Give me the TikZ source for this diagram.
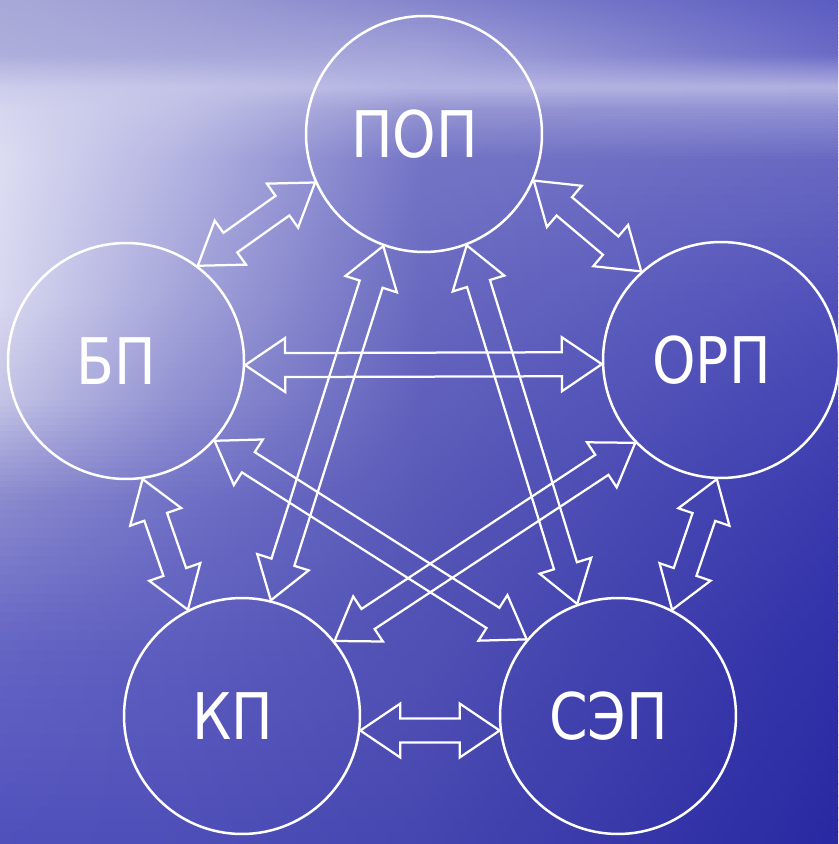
\documentclass[tikz,border=0pt]{standalone}
\usepackage{fontspec}
\setmainfont{DejaVu Sans}[FakeStretch=0.86]
\usepackage{tikz}
\usetikzlibrary{calc, positioning}

% sea colours, one row per key height: left edge, x=180, x=420, right edge
\foreach \n/\l/\q/\m/\r in {
    0/A8A8D8/9C9CD4/8484CC/5A5CC0,
    1/AEAEDC/A8A8DA/A4A4DA/6A6AC6,
    2/CCCCEC/C4C4E8/B4B4E2/B0B0E0,
    3/D6D6F0/C0C0E6/9494D2/9090D4,
    4/DCDCF2/B4B4E2/7474C6/6868C2,
    5/D8D8F0/A4A4DA/6868C0/5050BA,
    6/C4C4E6/9090D2/6060BC/4444B4,
    7/8A8ACE/7070C6/5858B8/3A3AAE,
    8/6464C4/5C5CBE/5050B4/3030A8,
    9/5050BC/4E4EB8/4646B0/2828A2}{%
  \xglobal\definecolor{seaL\n}{HTML}{\l}%
  \xglobal\definecolor{seaQ\n}{HTML}{\q}%
  \xglobal\definecolor{seaM\n}{HTML}{\m}%
  \xglobal\definecolor{seaR\n}{HTML}{\r}}

\newcommand{\headlen}{0.8cm}
\newcommand{\headhalf}{0.54cm}
\newcommand{\shafthalf}{0.24cm}

% hollow two-headed arrow between two points
\newcommand{\twoway}[2]{%
  \draw[link] (#1) -- ($(#1)!\headlen!(#2)!\headhalf!90:(#2)$)
    -- ($(#1)!\headlen!(#2)!\shafthalf!90:(#2)$)
    -- ($(#2)!\headlen!(#1)!\shafthalf!-90:(#1)$)
    -- ($(#2)!\headlen!(#1)!\headhalf!-90:(#1)$)
    -- (#2)
    -- ($(#2)!\headlen!(#1)!\headhalf!90:(#1)$)
    -- ($(#2)!\headlen!(#1)!\shafthalf!90:(#1)$)
    -- ($(#1)!\headlen!(#2)!\shafthalf!-90:(#2)$)
    -- ($(#1)!\headlen!(#2)!\headhalf!-90:(#2)$)
    -- cycle;}

\tikzset{
  stage/.style={circle, draw=white, line width=0.05cm, minimum size=4.72cm, inner sep=0pt},
  stagelabel/.style={text=white, font=\fontsize{36.6}{40}\selectfont, xshift=-0.19cm},
  link/.style={draw=white, line width=0.045cm, line join=miter},
}

\begin{document}
\begin{tikzpicture}[x=0.02cm, y=-0.02cm]
    \useasboundingbox (0,0) rectangle (838,844);

    % sea and sky, in thin strips
    \begin{scope}
        \clip (0,0) rectangle (838,844);
        \foreach \ya/\yb/\a/\b in {0/55/0/1, 55/88/1/2, 88/110/2/3, 110/160/3/4, 160/300/4/5,
                                   300/400/5/6, 400/500/6/7, 500/650/7/8, 650/844/8/9} {
            \foreach \t in {0,...,15} {
                \pgfmathsetmacro\p{(\t+0.5)*100/16}
                \pgfmathsetmacro\yt{\ya+(\yb-\ya)*\t/16}
                \pgfmathsetmacro\yu{\ya+(\yb-\ya)*(\t+1)/16+0.8}
                \colorlet{cl}{seaL\b!\p!seaL\a}
                \colorlet{cq}{seaQ\b!\p!seaQ\a}
                \colorlet{cm}{seaM\b!\p!seaM\a}
                \colorlet{cr}{seaR\b!\p!seaR\a}
                \shade[left color=cl, right color=cq] (-1,\yt) rectangle (180.5,\yu);
                \shade[left color=cq, right color=cm] (180,\yt) rectangle (420.5,\yu);
                \shade[left color=cm, right color=cr] (420,\yt) rectangle (839,\yu);
            }
        }
    \end{scope}

    % stages
    \node[stage, label={[stagelabel]center:ПОП}] (pop) at (424,134) {};
    \node[stage, label={[stagelabel]center:БП}] (bp) at (126,361) {};
    \node[stage, label={[stagelabel]center:ОРП}] (orp) at (721,360) {};
    \node[stage, label={[stagelabel]center:КП}] (kp) at (242,716) {};
    \node[stage, label={[stagelabel]center:СЭП}] (sep) at (618,716) {};

    % links
    \twoway{pop.204}{bp.53}
    \twoway{pop.337}{orp.132}
    \twoway{pop.250}{kp.76}
    \twoway{pop.291}{sep.110}
    \twoway{bp.358}{orp.182}
    \twoway{bp.278}{kp.117}
    \twoway{bp.318}{sep.140}
    \twoway{orp.224}{kp.39}
    \twoway{orp.268}{sep.63}
    \twoway{kp.353}{sep.187}
\end{tikzpicture}
\end{document}
